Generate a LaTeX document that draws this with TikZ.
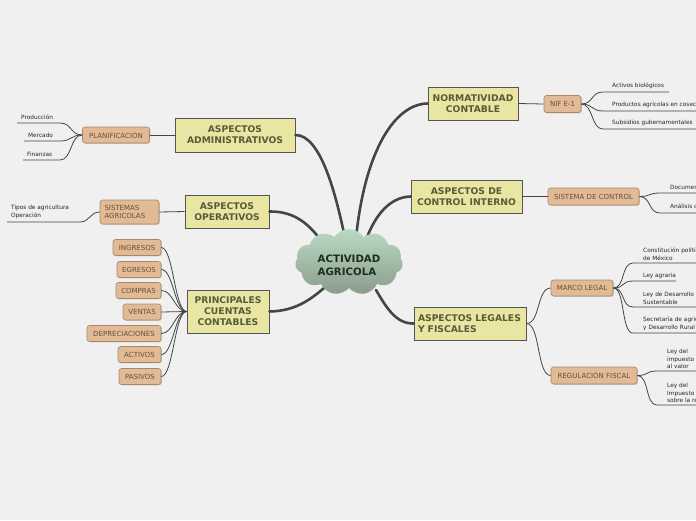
\documentclass[tikz,border=0pt]{standalone}
\usepackage{fontspec}
\setmainfont{DejaVu Sans}
\usetikzlibrary{shapes.symbols,shadows}
\definecolor{bg}{HTML}{F0F0F0}
\definecolor{mainfill}{HTML}{E8E6A2}
\definecolor{mainborder}{HTML}{555555}
\definecolor{maintext}{HTML}{5A5A38}
\definecolor{subfill}{HTML}{E2BA96}
\definecolor{subborder}{HTML}{A88868}
\definecolor{subtext}{HTML}{6A4E3C}
\definecolor{conn}{HTML}{454545}
\definecolor{cloudtop}{HTML}{BADAC2}
\definecolor{cloudbot}{HTML}{8A9C8C}
\definecolor{cloudtext}{HTML}{1E2E20}
\tikzset{
  maintopic/.style={rectangle, draw=mainborder, fill=mainfill, line width=0.8pt,
    font=\fontsize{9.2}{11}\selectfont\bfseries, text=maintext, align=center, inner sep=0pt},
  subtopic/.style={rectangle, rounded corners=2.5pt, draw=subborder, fill=subfill, line width=0.6pt,
    font=\fontsize{7}{8.5}\selectfont, text=subtext, align=center, inner sep=0pt, minimum height=16pt,
    drop shadow={shadow xshift=0.8pt, shadow yshift=-0.8pt, opacity=0.35}},
  leaftext/.style={font=\fontsize{5.8}{8.3}\selectfont, text=black!85, align=left, inner sep=0pt, anchor=south west},
  leafline/.style={draw=conn, line width=0.8pt},
  thinconn/.style={draw=conn, line width=0.8pt},
  thickconn/.style={draw=conn, line width=2.6pt, line cap=round},
}
\begin{document}
\begin{tikzpicture}[x=1pt,y=-1pt]
\clip (0,0) rectangle (696,520);
\fill[bg] (0,0) rectangle (696,520);

% main topics
\node[maintopic, minimum width=120pt, minimum height=34pt] (adm) at (235,135) {ASPECTOS\\ADMINISTRATIVOS};
\node[maintopic, minimum width=84pt, minimum height=33pt] (ope) at (227,211.5) {ASPECTOS\\OPERATIVOS};
\node[maintopic, minimum width=82pt, minimum height=43pt] (pcc) at (228,311.5) {PRINCIPALES\\CUENTAS\\CONTABLES};
\node[maintopic, minimum width=90pt, minimum height=33pt] (nor) at (473,103.5) {NORMATIVIDAD\\CONTABLE};
\node[maintopic, minimum width=111pt, minimum height=33pt] (cin) at (466.5,196.5) {ASPECTOS DE\\CONTROL INTERNO};
\node[maintopic, minimum width=112pt, minimum height=33pt, text width=104pt, align=left] (leg) at (470,323.5) {ASPECTOS LEGALES\\Y FISCALES};

% central connectors
\coordinate (cA) at (345,238);
\coordinate (cB) at (322,242);
\coordinate (cC) at (324,288);
\coordinate (cD) at (356,238);
\coordinate (cE) at (366,240);
\coordinate (cF) at (376,290);
\draw[thickconn] (adm.east) .. controls (320,135) and (335,190) .. (cA);
\draw[thickconn] (ope.east) .. controls (295,211) and (310,225) .. (cB);
\draw[thickconn] (pcc.east) .. controls (295,311) and (310,300) .. (cC);
\draw[thickconn] (nor.west) .. controls (395,104) and (365,150) .. (cD);
\draw[thickconn] (cin.west) .. controls (390,197) and (375,215) .. (cE);
\draw[thickconn] (leg.west) .. controls (395,324) and (385,305) .. (cF);

% central cloud
\node[cloud, cloud puffs=11, cloud puff arc=115, aspect=1.6, minimum width=108pt, minimum height=66pt,
  top color=cloudtop, bottom color=cloudbot, draw=none, inner sep=0pt] (cloud) at (349,262) {};
\node[font=\fontsize{10.2}{13}\selectfont\bfseries, text=cloudtext, align=left, inner sep=0pt] (ctext) at (349,265) {ACTIVIDAD\\AGRICOLA};

% subtopics left
\node[subtopic, minimum width=67pt] (plan) at (116,135) {PLANIFICACIÓN};
\node[subtopic, minimum width=59pt, minimum height=24pt, text width=50pt, align=left] (sis) at (129.5,212) {SISTEMAS\\AGRICOLAS};
\node[subtopic, minimum width=48pt] (ing) at (137,247.5) {INGRESOS};
\node[subtopic, minimum width=44pt] (egr) at (139,269.5) {EGRESOS};
\node[subtopic, minimum width=45pt] (com) at (138.5,290.5) {COMPRAS};
\node[subtopic, minimum width=38pt] (ven) at (142,312) {VENTAS};
\node[subtopic, minimum width=74pt] (dep) at (124,333.5) {DEPRECIACIONES};
\node[subtopic, minimum width=43pt] (act) at (139.5,354.5) {ACTIVOS};
\node[subtopic, minimum width=42pt] (pas) at (140,376.5) {PASIVOS};

% subtopics right
\node[subtopic, minimum width=37pt, minimum height=17pt] (nif) at (562.5,104) {NIF E-1};
\node[subtopic, minimum width=91pt, minimum height=17pt] (sdc) at (593.5,196.5) {SISTEMA DE CONTROL};
\node[subtopic, minimum width=62pt] (mar) at (582,288) {MARCO LEGAL};
\node[subtopic, minimum width=86pt, minimum height=17pt] (reg) at (594,375.5) {REGULACIÓN FISCAL};

% main to sub connectors
\draw[thinconn] (adm.west) -- (plan.east);
\draw[thinconn] (ope.west) -- (sis.east);
\foreach \s in {ing,egr,com,ven,dep,act,pas}{
  \draw[thinconn] (\s.east) .. controls +(12,0) and +(-12,0) .. (pcc.west);
}
\draw[thinconn] (nor.east) -- (nif.west);
\draw[thinconn] (cin.east) -- (sdc.west);
\draw[thinconn] (leg.east) .. controls +(14,0) and +(-14,0) .. (mar.west);
\draw[thinconn] (leg.east) .. controls +(14,0) and +(-14,0) .. (reg.west);

% leaves: PLANIFICACION
\coordinate (l1a) at (17,123); \coordinate (l1b) at (60,123);
\coordinate (l2a) at (24,141); \coordinate (l2b) at (60,141);
\coordinate (l3a) at (23,160); \coordinate (l3b) at (60,160);
\node[leaftext] (t1) at (21,120) {Producción};
\node[leaftext] (t2) at (28,138) {Mercado};
\node[leaftext] (t3) at (27,157) {Finanzas};
\foreach \a/\b in {l1a/l1b,l2a/l2b,l3a/l3b}{
  \draw[leafline] (plan.west) .. controls +(-12,0) and +(12,0) .. (\b) -- (\a);
}
% leaves: SISTEMAS AGRICOLAS
\coordinate (l4a) at (7,222); \coordinate (l4b) at (80,222);
\node[leaftext] (t4) at (11,219) {Tipos de agricultura\\Operación};
\draw[leafline] (sis.west) .. controls +(-10,0) and +(10,0) .. (l4b) -- (l4a);

% leaves: NIF E-1
\coordinate (r1a) at (603,92); \coordinate (r1b) at (669,92);
\coordinate (r2a) at (603,111); \coordinate (r2b) at (710,111);
\coordinate (r3a) at (603,129); \coordinate (r3b) at (710,129);
\node[leaftext] (u1) at (612,89) {Activos biológicos};
\node[leaftext] (u2) at (612,108) {Productos agrícolas en cosecha};
\node[leaftext] (u3) at (612,126) {Subsidios gubernamentales};
\foreach \a/\b in {r1a/r1b,r2a/r2b,r3a/r3b}{
  \draw[leafline] (nif.east) .. controls +(12,0) and +(-12,0) .. (\a) -- (\b);
}
% leaves: SISTEMA DE CONTROL
\coordinate (r4a) at (660,193); \coordinate (r4b) at (710,193);
\coordinate (r5a) at (660,213); \coordinate (r5b) at (710,213);
\node[leaftext] (u4) at (670,190) {Documentación};
\node[leaftext] (u5) at (670,210) {Análisis de riesgos};
\foreach \a/\b in {r4a/r4b,r5a/r5b}{
  \draw[leafline] (sdc.east) .. controls +(12,0) and +(-12,0) .. (\a) -- (\b);
}
% leaves: MARCO LEGAL
\coordinate (r6a) at (633,263); \coordinate (r6b) at (710,263);
\coordinate (r7a) at (633,281); \coordinate (r7b) at (676,281);
\coordinate (r8a) at (633,307); \coordinate (r8b) at (710,307);
\coordinate (r9a) at (633,333); \coordinate (r9b) at (710,333);
\node[leaftext, text width=90pt] (u6) at (643,261) {Constitución política\\de México};
\node[leaftext] (u7) at (643,279) {Ley agraria};
\node[leaftext, text width=90pt] (u8) at (643,305) {Ley de Desarrollo Rural\\Sustentable};
\node[leaftext, text width=90pt] (u9) at (643,331) {Secretaría de agricultura\\y Desarrollo Rural};
\foreach \a/\b in {r6a/r6b,r7a/r7b,r8a/r8b,r9a/r9b}{
  \draw[leafline] (mar.east) .. controls +(12,0) and +(-12,0) .. (\a) -- (\b);
}
% leaves: REGULACION FISCAL
\coordinate (r10a) at (657,371); \coordinate (r10b) at (710,371);
\coordinate (r11a) at (657,405); \coordinate (r11b) at (710,405);
\node[leaftext, font=\fontsize{5.8}{7.5}\selectfont] (u10) at (667,369) {Ley del\\impuesto\\al valor};
\node[leaftext, font=\fontsize{5.8}{7.5}\selectfont] (u11) at (667,403) {Ley del\\Impuesto\\sobre la renta};
\foreach \a/\b in {r10a/r10b,r11a/r11b}{
  \draw[leafline] (reg.east) .. controls +(12,0) and +(-12,0) .. (\a) -- (\b);
}
\end{tikzpicture}
\end{document}
